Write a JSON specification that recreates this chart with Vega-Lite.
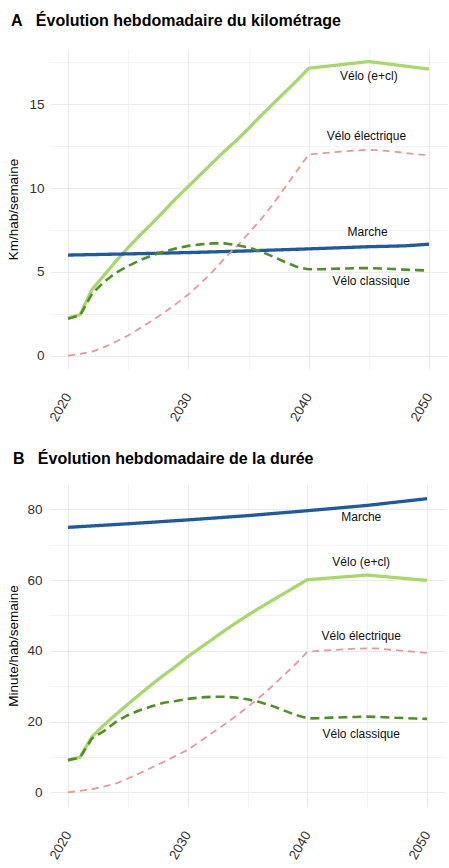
{
  "$schema": "https://vega.github.io/schema/vega-lite/v6.json",
  "background": "white",
  "padding": {"left": 6, "top": 13, "right": 2, "bottom": 2},
  "spacing": 27,
  "datasets": {
    "km": [
      {"serie": "Vélo (e+cl)", "annee": 2020, "valeur": 2.25},
      {"serie": "Vélo (e+cl)", "annee": 2021, "valeur": 2.45},
      {"serie": "Vélo (e+cl)", "annee": 2022, "valeur": 3.95},
      {"serie": "Vélo (e+cl)", "annee": 2023, "valeur": 4.8},
      {"serie": "Vélo (e+cl)", "annee": 2024, "valeur": 5.65},
      {"serie": "Vélo (e+cl)", "annee": 2025, "valeur": 6.45},
      {"serie": "Vélo (e+cl)", "annee": 2026, "valeur": 7.2},
      {"serie": "Vélo (e+cl)", "annee": 2027, "valeur": 7.9},
      {"serie": "Vélo (e+cl)", "annee": 2028, "valeur": 8.65},
      {"serie": "Vélo (e+cl)", "annee": 2029, "valeur": 9.4},
      {"serie": "Vélo (e+cl)", "annee": 2030, "valeur": 10.1},
      {"serie": "Vélo (e+cl)", "annee": 2031, "valeur": 10.8},
      {"serie": "Vélo (e+cl)", "annee": 2032, "valeur": 11.5},
      {"serie": "Vélo (e+cl)", "annee": 2033, "valeur": 12.2},
      {"serie": "Vélo (e+cl)", "annee": 2034, "valeur": 12.85},
      {"serie": "Vélo (e+cl)", "annee": 2035, "valeur": 13.55},
      {"serie": "Vélo (e+cl)", "annee": 2036, "valeur": 14.3},
      {"serie": "Vélo (e+cl)", "annee": 2037, "valeur": 15.0},
      {"serie": "Vélo (e+cl)", "annee": 2038, "valeur": 15.7},
      {"serie": "Vélo (e+cl)", "annee": 2039, "valeur": 16.4},
      {"serie": "Vélo (e+cl)", "annee": 2040, "valeur": 17.15},
      {"serie": "Vélo (e+cl)", "annee": 2045, "valeur": 17.55},
      {"serie": "Vélo (e+cl)", "annee": 2050, "valeur": 17.1},
      {"serie": "Marche", "annee": 2020, "valeur": 6.0},
      {"serie": "Marche", "annee": 2025, "valeur": 6.07},
      {"serie": "Marche", "annee": 2030, "valeur": 6.15},
      {"serie": "Marche", "annee": 2035, "valeur": 6.25},
      {"serie": "Marche", "annee": 2040, "valeur": 6.37},
      {"serie": "Marche", "annee": 2045, "valeur": 6.5},
      {"serie": "Marche", "annee": 2048, "valeur": 6.55},
      {"serie": "Marche", "annee": 2050, "valeur": 6.65},
      {"serie": "Vélo électrique", "annee": 2020, "valeur": 0},
      {"serie": "Vélo électrique", "annee": 2021, "valeur": 0.1},
      {"serie": "Vélo électrique", "annee": 2022, "valeur": 0.24},
      {"serie": "Vélo électrique", "annee": 2023, "valeur": 0.5},
      {"serie": "Vélo électrique", "annee": 2024, "valeur": 0.84},
      {"serie": "Vélo électrique", "annee": 2025, "valeur": 1.2},
      {"serie": "Vélo électrique", "annee": 2026, "valeur": 1.64},
      {"serie": "Vélo électrique", "annee": 2027, "valeur": 2.1},
      {"serie": "Vélo électrique", "annee": 2028, "valeur": 2.58},
      {"serie": "Vélo électrique", "annee": 2029, "valeur": 3.1},
      {"serie": "Vélo électrique", "annee": 2030, "valeur": 3.65},
      {"serie": "Vélo électrique", "annee": 2031, "valeur": 4.3},
      {"serie": "Vélo électrique", "annee": 2032, "valeur": 5.0},
      {"serie": "Vélo électrique", "annee": 2033, "valeur": 5.8},
      {"serie": "Vélo électrique", "annee": 2034, "valeur": 6.5},
      {"serie": "Vélo électrique", "annee": 2035, "valeur": 7.3},
      {"serie": "Vélo électrique", "annee": 2036, "valeur": 8.1},
      {"serie": "Vélo électrique", "annee": 2037, "valeur": 9.0},
      {"serie": "Vélo électrique", "annee": 2038, "valeur": 10.0},
      {"serie": "Vélo électrique", "annee": 2039, "valeur": 11.0},
      {"serie": "Vélo électrique", "annee": 2040, "valeur": 12.0},
      {"serie": "Vélo électrique", "annee": 2041, "valeur": 12.07},
      {"serie": "Vélo électrique", "annee": 2042, "valeur": 12.13},
      {"serie": "Vélo électrique", "annee": 2043, "valeur": 12.2},
      {"serie": "Vélo électrique", "annee": 2044, "valeur": 12.25},
      {"serie": "Vélo électrique", "annee": 2045, "valeur": 12.28},
      {"serie": "Vélo électrique", "annee": 2046, "valeur": 12.25},
      {"serie": "Vélo électrique", "annee": 2047, "valeur": 12.18},
      {"serie": "Vélo électrique", "annee": 2048, "valeur": 12.1},
      {"serie": "Vélo électrique", "annee": 2049, "valeur": 12.02},
      {"serie": "Vélo électrique", "annee": 2050, "valeur": 11.95},
      {"serie": "Vélo classique", "annee": 2020, "valeur": 2.2},
      {"serie": "Vélo classique", "annee": 2021, "valeur": 2.4},
      {"serie": "Vélo classique", "annee": 2022, "valeur": 3.7},
      {"serie": "Vélo classique", "annee": 2023, "valeur": 4.4},
      {"serie": "Vélo classique", "annee": 2024, "valeur": 4.95},
      {"serie": "Vélo classique", "annee": 2025, "valeur": 5.35},
      {"serie": "Vélo classique", "annee": 2026, "valeur": 5.7},
      {"serie": "Vélo classique", "annee": 2027, "valeur": 5.98},
      {"serie": "Vélo classique", "annee": 2028, "valeur": 6.22},
      {"serie": "Vélo classique", "annee": 2029, "valeur": 6.4},
      {"serie": "Vélo classique", "annee": 2030, "valeur": 6.55},
      {"serie": "Vélo classique", "annee": 2031, "valeur": 6.64},
      {"serie": "Vélo classique", "annee": 2032, "valeur": 6.7},
      {"serie": "Vélo classique", "annee": 2033, "valeur": 6.7},
      {"serie": "Vélo classique", "annee": 2034, "valeur": 6.6},
      {"serie": "Vélo classique", "annee": 2035, "valeur": 6.45},
      {"serie": "Vélo classique", "annee": 2036, "valeur": 6.22},
      {"serie": "Vélo classique", "annee": 2037, "valeur": 5.92},
      {"serie": "Vélo classique", "annee": 2038, "valeur": 5.6},
      {"serie": "Vélo classique", "annee": 2039, "valeur": 5.3},
      {"serie": "Vélo classique", "annee": 2040, "valeur": 5.15},
      {"serie": "Vélo classique", "annee": 2041, "valeur": 5.15},
      {"serie": "Vélo classique", "annee": 2042, "valeur": 5.18},
      {"serie": "Vélo classique", "annee": 2043, "valeur": 5.2},
      {"serie": "Vélo classique", "annee": 2044, "valeur": 5.22},
      {"serie": "Vélo classique", "annee": 2045, "valeur": 5.22},
      {"serie": "Vélo classique", "annee": 2046, "valeur": 5.2},
      {"serie": "Vélo classique", "annee": 2047, "valeur": 5.17},
      {"serie": "Vélo classique", "annee": 2048, "valeur": 5.13},
      {"serie": "Vélo classique", "annee": 2049, "valeur": 5.1},
      {"serie": "Vélo classique", "annee": 2050, "valeur": 5.08}
    ],
    "km_labels": [
      {"serie": "Vélo (e+cl)", "annee": 2045, "valeur": 16.7},
      {"serie": "Vélo électrique", "annee": 2044.8, "valeur": 13.1},
      {"serie": "Marche", "annee": 2044.9, "valeur": 7.35},
      {"serie": "Vélo classique", "annee": 2045.2, "valeur": 4.47}
    ],
    "duree": [
      {"serie": "Vélo (e+cl)", "annee": 2020, "valeur": 9.1},
      {"serie": "Vélo (e+cl)", "annee": 2021, "valeur": 9.9},
      {"serie": "Vélo (e+cl)", "annee": 2022, "valeur": 15.7},
      {"serie": "Vélo (e+cl)", "annee": 2023, "valeur": 19.0},
      {"serie": "Vélo (e+cl)", "annee": 2024, "valeur": 22.0},
      {"serie": "Vélo (e+cl)", "annee": 2025, "valeur": 24.9},
      {"serie": "Vélo (e+cl)", "annee": 2026, "valeur": 27.7},
      {"serie": "Vélo (e+cl)", "annee": 2027, "valeur": 30.5},
      {"serie": "Vélo (e+cl)", "annee": 2028, "valeur": 33.1},
      {"serie": "Vélo (e+cl)", "annee": 2029, "valeur": 35.6},
      {"serie": "Vélo (e+cl)", "annee": 2030, "valeur": 38.3},
      {"serie": "Vélo (e+cl)", "annee": 2031, "valeur": 40.7},
      {"serie": "Vélo (e+cl)", "annee": 2032, "valeur": 43.1},
      {"serie": "Vélo (e+cl)", "annee": 2033, "valeur": 45.5},
      {"serie": "Vélo (e+cl)", "annee": 2034, "valeur": 47.8},
      {"serie": "Vélo (e+cl)", "annee": 2035, "valeur": 50.0},
      {"serie": "Vélo (e+cl)", "annee": 2036, "valeur": 52.1},
      {"serie": "Vélo (e+cl)", "annee": 2037, "valeur": 54.1},
      {"serie": "Vélo (e+cl)", "annee": 2038, "valeur": 56.1},
      {"serie": "Vélo (e+cl)", "annee": 2039, "valeur": 58.1},
      {"serie": "Vélo (e+cl)", "annee": 2040, "valeur": 60.1},
      {"serie": "Vélo (e+cl)", "annee": 2045, "valeur": 61.4},
      {"serie": "Vélo (e+cl)", "annee": 2050, "valeur": 59.9},
      {"serie": "Marche", "annee": 2020, "valeur": 74.9},
      {"serie": "Marche", "annee": 2025, "valeur": 75.9},
      {"serie": "Marche", "annee": 2030, "valeur": 77.0},
      {"serie": "Marche", "annee": 2035, "valeur": 78.2},
      {"serie": "Marche", "annee": 2040, "valeur": 79.6},
      {"serie": "Marche", "annee": 2045, "valeur": 81.1},
      {"serie": "Marche", "annee": 2050, "valeur": 83.0},
      {"serie": "Vélo électrique", "annee": 2020, "valeur": 0},
      {"serie": "Vélo électrique", "annee": 2021, "valeur": 0.4},
      {"serie": "Vélo électrique", "annee": 2022, "valeur": 0.9},
      {"serie": "Vélo électrique", "annee": 2023, "valeur": 1.6},
      {"serie": "Vélo électrique", "annee": 2024, "valeur": 2.5},
      {"serie": "Vélo électrique", "annee": 2025, "valeur": 3.9},
      {"serie": "Vélo électrique", "annee": 2026, "valeur": 5.4},
      {"serie": "Vélo électrique", "annee": 2027, "valeur": 7.0},
      {"serie": "Vélo électrique", "annee": 2028, "valeur": 8.6},
      {"serie": "Vélo électrique", "annee": 2029, "valeur": 10.3},
      {"serie": "Vélo électrique", "annee": 2030, "valeur": 12.0},
      {"serie": "Vélo électrique", "annee": 2031, "valeur": 14.3},
      {"serie": "Vélo électrique", "annee": 2032, "valeur": 16.7},
      {"serie": "Vélo électrique", "annee": 2033, "valeur": 19.0},
      {"serie": "Vélo électrique", "annee": 2034, "valeur": 21.5},
      {"serie": "Vélo électrique", "annee": 2035, "valeur": 24.1},
      {"serie": "Vélo électrique", "annee": 2036, "valeur": 26.8},
      {"serie": "Vélo électrique", "annee": 2037, "valeur": 29.8},
      {"serie": "Vélo électrique", "annee": 2038, "valeur": 33.0},
      {"serie": "Vélo électrique", "annee": 2039, "valeur": 36.2},
      {"serie": "Vélo électrique", "annee": 2040, "valeur": 39.7},
      {"serie": "Vélo électrique", "annee": 2041, "valeur": 40.0},
      {"serie": "Vélo électrique", "annee": 2042, "valeur": 40.2},
      {"serie": "Vélo électrique", "annee": 2043, "valeur": 40.4},
      {"serie": "Vélo électrique", "annee": 2044, "valeur": 40.6},
      {"serie": "Vélo électrique", "annee": 2045, "valeur": 40.7},
      {"serie": "Vélo électrique", "annee": 2046, "valeur": 40.6},
      {"serie": "Vélo électrique", "annee": 2047, "valeur": 40.3},
      {"serie": "Vélo électrique", "annee": 2048, "valeur": 40.0},
      {"serie": "Vélo électrique", "annee": 2049, "valeur": 39.7},
      {"serie": "Vélo électrique", "annee": 2050, "valeur": 39.4},
      {"serie": "Vélo classique", "annee": 2020, "valeur": 9.1},
      {"serie": "Vélo classique", "annee": 2021, "valeur": 9.8},
      {"serie": "Vélo classique", "annee": 2022, "valeur": 15.2},
      {"serie": "Vélo classique", "annee": 2023, "valeur": 17.3},
      {"serie": "Vélo classique", "annee": 2024, "valeur": 19.9},
      {"serie": "Vélo classique", "annee": 2025, "valeur": 21.8},
      {"serie": "Vélo classique", "annee": 2026, "valeur": 23.2},
      {"serie": "Vélo classique", "annee": 2027, "valeur": 24.3},
      {"serie": "Vélo classique", "annee": 2028, "valeur": 25.3},
      {"serie": "Vélo classique", "annee": 2029, "valeur": 25.8},
      {"serie": "Vélo classique", "annee": 2030, "valeur": 26.4},
      {"serie": "Vélo classique", "annee": 2031, "valeur": 26.8},
      {"serie": "Vélo classique", "annee": 2032, "valeur": 27.0},
      {"serie": "Vélo classique", "annee": 2033, "valeur": 27.0},
      {"serie": "Vélo classique", "annee": 2034, "valeur": 26.8},
      {"serie": "Vélo classique", "annee": 2035, "valeur": 26.3},
      {"serie": "Vélo classique", "annee": 2036, "valeur": 25.5},
      {"serie": "Vélo classique", "annee": 2037, "valeur": 24.5},
      {"serie": "Vélo classique", "annee": 2038, "valeur": 23.2},
      {"serie": "Vélo classique", "annee": 2039, "valeur": 21.9},
      {"serie": "Vélo classique", "annee": 2040, "valeur": 20.9},
      {"serie": "Vélo classique", "annee": 2041, "valeur": 20.95},
      {"serie": "Vélo classique", "annee": 2042, "valeur": 21.1},
      {"serie": "Vélo classique", "annee": 2043, "valeur": 21.2},
      {"serie": "Vélo classique", "annee": 2044, "valeur": 21.3},
      {"serie": "Vélo classique", "annee": 2045, "valeur": 21.4},
      {"serie": "Vélo classique", "annee": 2046, "valeur": 21.3},
      {"serie": "Vélo classique", "annee": 2047, "valeur": 21.1},
      {"serie": "Vélo classique", "annee": 2048, "valeur": 21.0},
      {"serie": "Vélo classique", "annee": 2049, "valeur": 20.85},
      {"serie": "Vélo classique", "annee": 2050, "valeur": 20.75}
    ],
    "duree_labels": [
      {"serie": "Marche", "annee": 2044.5, "valeur": 77.7},
      {"serie": "Vélo (e+cl)", "annee": 2044.5, "valeur": 65.1},
      {"serie": "Vélo électrique", "annee": 2044.5, "valeur": 44.3},
      {"serie": "Vélo classique", "annee": 2044.5, "valeur": 16.5}
    ]
  },
  "vconcat": [
    {
      "width": 397,
      "height": 320,
      "title": {"text": "A\u00a0\u00a0\u00a0Évolution hebdomadaire du kilométrage", "offset": 20, "dx": 4},
      "layer": [
        {
          "data": {"name": "km"},
          "mark": {"type": "line", "strokeCap": "butt", "strokeJoin": "round"},
          "encoding": {
            "x": {"field": "annee", "type": "quantitative", "title": null,
                  "scale": {"domain": [2018.5, 2051.5], "nice": false, "zero": false},
                  "axis": {"values": [2020, 2025, 2030, 2035, 2040, 2045, 2050], "format": "d",
                           "labelExpr": "datum.value % 10 === 0 ? datum.label : ''",
                           "labelAngle": -60, "labelAlign": "right", "labelBaseline": "middle", "labelPadding": 25,
                           "gridWidth": {"condition": {"test": "datum.value % 10 !== 0", "value": 0.6}, "value": 1.1}}},
            "y": {"field": "valeur", "type": "quantitative", "title": "Km/hab/semaine",
                  "scale": {"domain": [-0.8, 18.3], "nice": false, "zero": false},
                  "axis": {"values": [0, 2.5, 5, 7.5, 10, 12.5, 15, 17.5],
                           "labelExpr": "datum.value % 5 === 0 ? datum.label : ''",
                           "labelPadding": 6, "titlePadding": 8,
                           "gridWidth": {"condition": {"test": "datum.value % 5 !== 0", "value": 0.6}, "value": 1.1}}},
            "color": {"field": "serie", "type": "nominal", "legend": null,
                      "scale": {"domain": ["Marche", "Vélo (e+cl)", "Vélo électrique", "Vélo classique"],
                                "range": ["#1d5a9e", "#a6d96a", "#e6999a", "#4d9221"]}},
            "strokeDash": {"field": "serie", "type": "nominal", "legend": null,
                           "scale": {"domain": ["Marche", "Vélo (e+cl)", "Vélo électrique", "Vélo classique"],
                                     "range": [[1, 0], [1, 0], [7, 5], [9, 5]]}},
            "strokeWidth": {"condition": [
                              {"test": "datum.serie === 'Vélo électrique'", "value": 1.8},
                              {"test": "datum.serie === 'Vélo classique'", "value": 2.6}],
                            "value": 3.3}
          }
        },
        {
          "data": {"name": "km_labels"},
          "mark": {"type": "text", "fontSize": 12, "color": "#111", "font": "Liberation Sans"},
          "encoding": {
            "x": {"field": "annee", "type": "quantitative"},
            "y": {"field": "valeur", "type": "quantitative"},
            "text": {"field": "serie"}
          }
        }
      ]
    },
    {
      "width": 395,
      "height": 323,
      "title": {"text": "B\u00a0\u00a0\u00a0Évolution hebdomadaire de la durée", "offset": 17, "dx": 6},
      "layer": [
        {
          "data": {"name": "duree"},
          "mark": {"type": "line", "strokeCap": "butt", "strokeJoin": "round"},
          "encoding": {
            "x": {"field": "annee", "type": "quantitative", "title": null,
                  "scale": {"domain": [2018.5, 2051.5], "nice": false, "zero": false},
                  "axis": {"values": [2020, 2025, 2030, 2035, 2040, 2045, 2050], "format": "d",
                           "labelExpr": "datum.value % 10 === 0 ? datum.label : ''",
                           "labelAngle": -60, "labelAlign": "right", "labelBaseline": "middle", "labelPadding": 25,
                           "gridWidth": {"condition": {"test": "datum.value % 10 !== 0", "value": 0.6}, "value": 1.1}}},
            "y": {"field": "valeur", "type": "quantitative", "title": "Minute/hab/semaine",
                  "scale": {"domain": [-4.15, 87.15], "nice": false, "zero": false},
                  "axis": {"values": [0, 10, 20, 30, 40, 50, 60, 70, 80],
                           "labelExpr": "datum.value % 20 === 0 ? datum.label : ''",
                           "labelPadding": 8, "titlePadding": 6,
                           "gridWidth": {"condition": {"test": "datum.value % 20 !== 0", "value": 0.6}, "value": 1.1}}},
            "color": {"field": "serie", "type": "nominal", "legend": null,
                      "scale": {"domain": ["Marche", "Vélo (e+cl)", "Vélo électrique", "Vélo classique"],
                                "range": ["#1d5a9e", "#a6d96a", "#e6999a", "#4d9221"]}},
            "strokeDash": {"field": "serie", "type": "nominal", "legend": null,
                           "scale": {"domain": ["Marche", "Vélo (e+cl)", "Vélo électrique", "Vélo classique"],
                                     "range": [[1, 0], [1, 0], [7, 5], [9, 5]]}},
            "strokeWidth": {"condition": [
                              {"test": "datum.serie === 'Vélo électrique'", "value": 1.8},
                              {"test": "datum.serie === 'Vélo classique'", "value": 2.6}],
                            "value": 3.3}
          }
        },
        {
          "data": {"name": "duree_labels"},
          "mark": {"type": "text", "fontSize": 12, "color": "#111", "font": "Liberation Sans"},
          "encoding": {
            "x": {"field": "annee", "type": "quantitative"},
            "y": {"field": "valeur", "type": "quantitative"},
            "text": {"field": "serie"}
          }
        }
      ]
    }
  ],
  "config": {
    "font": "Liberation Sans",
    "view": {"stroke": null},
    "title": {"font": "Liberation Sans", "fontSize": 16, "fontWeight": "bold", "color": "#000",
              "anchor": "start", "frame": "bounds"},
    "axis": {"domain": false, "ticks": false, "tickSize": 0, "grid": true, "gridColor": "#ebebeb",
             "labelFont": "Liberation Sans", "labelFontSize": 13.5, "labelColor": "#333",
             "titleFont": "Liberation Sans", "titleFontSize": 13.5, "titleFontWeight": "normal", "titleColor": "#000"}
  }
}
